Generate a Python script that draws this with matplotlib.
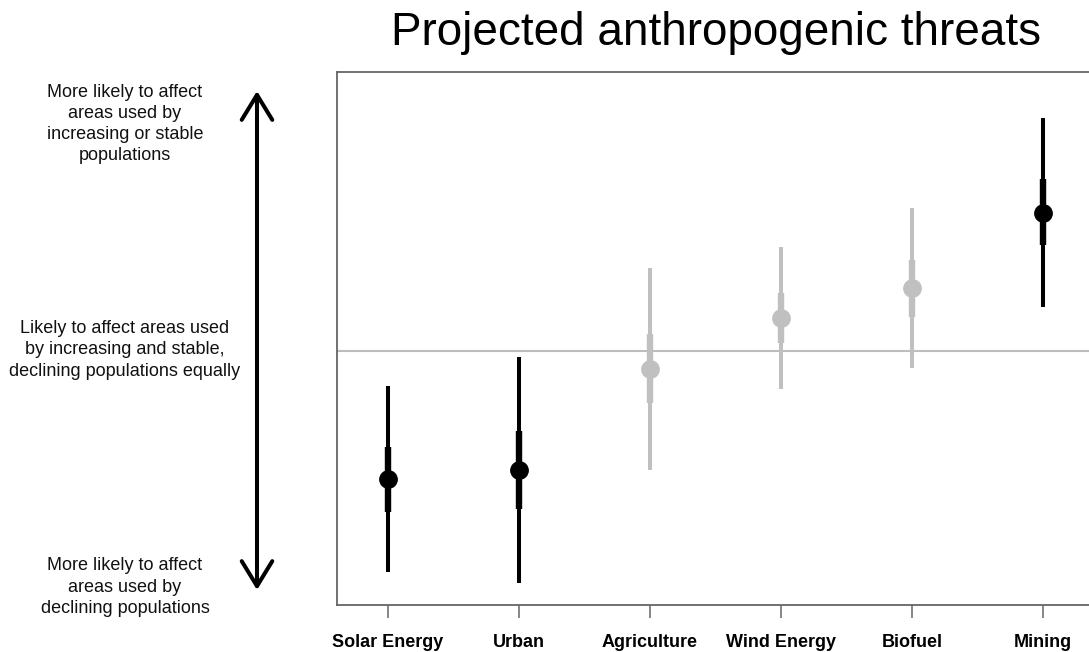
import matplotlib
matplotlib.use("Agg")
import matplotlib.pyplot as plt
from matplotlib.patches import FancyArrowPatch

plt.rcParams['font.family'] = ['Liberation Sans', 'DejaVu Sans']

categories = ["Solar Energy", "Urban", "Agriculture", "Wind Energy", "Biofuel", "Mining"]
estimate = [-1.28, -1.19, -0.18, 0.33, 0.63, 1.38]
inner_low = [-1.61, -1.58, -0.52, 0.08, 0.34, 1.06]
inner_high = [-0.96, -0.80, 0.17, 0.58, 0.91, 1.72]
outer_low = [-2.21, -2.32, -1.19, -0.38, -0.17, 0.44]
outer_high = [-0.35, -0.06, 0.83, 1.04, 1.43, 2.33]
significant = [True, True, False, False, False, True]

W, H = 1089, 652
fig = plt.figure(figsize=(W / 100, H / 100), dpi=100)

x0 = 0.611
x1 = 6.389
ppu = 131.0
ax_left = 337
ax_w = (x1 - x0) * ppu
ax_top, ax_bot = 72, 605
ax = fig.add_axes([ax_left / W, 1 - ax_bot / H, ax_w / W, (ax_bot - ax_top) / H])
ax.set_xlim(x0, x1)
ax.set_ylim(-2.54, 2.79)

ax.axhline(0, color="#bdbdbd", lw=1.5, zorder=1)

xs = list(range(1, len(categories) + 1))
for i, x in enumerate(xs):
    c = "black" if significant[i] else "#c0c0c0"
    ax.plot([x, x], [outer_low[i], outer_high[i]], color=c, lw=2.9, solid_capstyle="butt", zorder=2)
    ax.plot([x, x], [inner_low[i], inner_high[i]], color=c, lw=4.6, solid_capstyle="butt", zorder=3)
    ax.plot([x], [estimate[i]], "o", color=c, ms=12.5, zorder=4)

for s in ax.spines.values():
    s.set_color("#666666")
    s.set_linewidth(1.3)
ax.set_yticks([])
ax.set_xticks(xs)
ax.set_xticklabels(categories, fontsize=13, fontweight="bold")
ax.tick_params(axis="x", length=9, width=1.1, color="#666666", pad=12)

fig.text(716 / W, 1 - 33 / H, "Projected anthropogenic threats", fontsize=33,
         ha="center", va="center")

txt_kw = dict(fontsize=13, ha="center", va="center", linespacing=1.32, color="#111111")
fig.text(125 / W, 1 - 124 / H, "More likely to affect\nareas used by\nincreasing or stable\npopulations", **txt_kw)
fig.text(125 / W, 1 - 350 / H, "Likely to affect areas used\nby increasing and stable,\ndeclining populations equally", **txt_kw)
fig.text(125 / W, 1 - 587 / H, "More likely to affect\nareas used by\ndeclining populations", **txt_kw)

arrow = FancyArrowPatch((257 / W, 1 - 590 / H), (257 / W, 1 - 91 / H),
                        transform=fig.transFigure,
                        arrowstyle="<->,head_length=0.9,head_width=0.55",
                        mutation_scale=20, lw=2.9, color="black",
                        shrinkA=0, shrinkB=0)
fig.patches.append(arrow)

fig.savefig("out.png", dpi=100)
